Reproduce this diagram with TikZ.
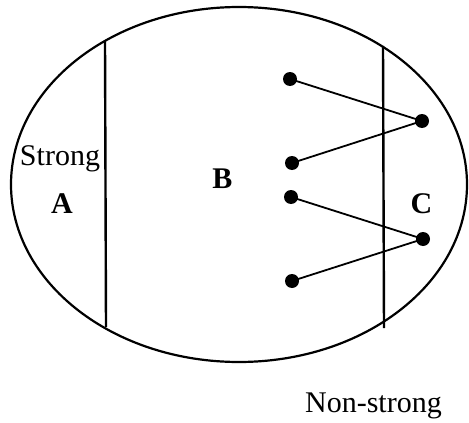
\documentclass[tikz,border=0pt]{standalone}
\usepackage{fontspec}
\setmainfont{Liberation Serif}
\begin{document}
\begin{tikzpicture}[x=1pt,y=-1pt,
  lbl/.style={anchor=base,inner sep=0pt,font=\fontsize{30}{36}\selectfont},
  blbl/.style={lbl,font=\fontsize{30}{36}\selectfont\bfseries},
  vtx/.style={circle,fill=black,inner sep=0pt,minimum size=14pt},
  edge/.style={line width=1.8pt},
  wall/.style={line width=2.4pt}]
\useasboundingbox (0,0) rectangle (469,423);
\draw[line width=2.2pt] (239,184.5) ellipse [x radius=228, y radius=177.5];
\coordinate (l1) at (105,41);
\coordinate (l2) at (106,327);
\coordinate (r1) at (383,46);
\coordinate (r2) at (384,328);
\draw[wall] (l1) -- (l2);
\draw[wall] (r1) -- (r2);
\node[vtx] (b1) at (290,79) {};
\node[vtx] (b2) at (292,163) {};
\node[vtx] (b3) at (291,197) {};
\node[vtx] (b4) at (292,281) {};
\node[vtx] (c1) at (422,121) {};
\node[vtx] (c2) at (423,239) {};
\draw[edge] (b1.center) -- (c1.center) -- (b2.center);
\draw[edge] (b3.center) -- (c2.center) -- (b4.center);
\node[lbl] (strong) at (60,165) {Strong};
\node[blbl] (A) at (62,213) {A};
\node[blbl] (B) at (222.5,188) {B};
\node[blbl] (C) at (421.5,213) {C};
\node[lbl] (ns) at (373.5,412) {Non-strong};
\end{tikzpicture}
\end{document}
